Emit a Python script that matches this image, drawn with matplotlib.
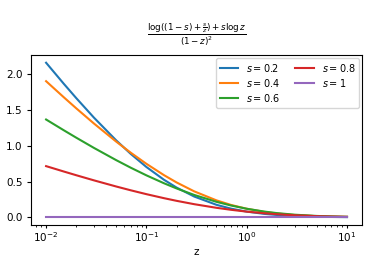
import matplotlib
matplotlib.use('Agg')
import matplotlib.pyplot as plt

# z sample points and curve values for each s
z = [0.01, 0.015, 0.02, 0.03, 0.05, 0.07, 0.1, 0.15, 0.2, 0.3, 0.5, 0.7,
     1.0, 1.5, 2.0, 3.0, 5.0, 7.0, 10.0]
s_02 = [2.157, 1.864, 1.663, 1.391, 1.074, 0.884, 0.7026, 0.5236, 0.4155, 0.2902,
        0.1748, 0.1211, 0.08, 0.0484, 0.0333, 0.0192, 0.0092, 0.0056, 0.0032]
s_04 = [1.8995, 1.6757, 1.5207, 1.309, 1.0565, 0.9009, 0.747, 0.5882, 0.487, 0.3625,
        0.2369, 0.1728, 0.12, 0.0764, 0.0541, 0.0323, 0.0161, 0.01, 0.0059]
s_06 = [1.365, 1.2152, 1.1112, 0.9688, 0.7981, 0.6919, 0.5861, 0.4752, 0.4033, 0.3125,
        0.2165, 0.1649, 0.12, 0.0805, 0.0592, 0.0371, 0.0195, 0.0124, 0.0075]
s_08 = [0.7146, 0.6396, 0.5875, 0.5161, 0.4304, 0.377, 0.3235, 0.2673, 0.2305, 0.1836,
        0.1331, 0.1051, 0.08, 0.0569, 0.0437, 0.0292, 0.0166, 0.0111, 0.007]
s_1 = [0.0] * len(z)

series = [s_02, s_04, s_06, s_08, s_1]
labels = ['$s=0.2$', '$s=0.4$', '$s=0.6$', '$s=0.8$', '$s=1$']

plt.rcParams['font.size'] = 7.5
plt.rcParams['xtick.major.size'] = 2.5
plt.rcParams['ytick.major.size'] = 3
plt.rcParams['xtick.minor.size'] = 1.5
plt.rcParams['xtick.major.pad'] = 1.2
plt.rcParams['ytick.major.pad'] = 3
fig = plt.figure(figsize=(3.74, 2.67), dpi=100)
ax = fig.add_axes([0.083, 0.157, 0.885, 0.637])

for y, lab in zip(series, labels):
    ax.plot(z, y, lw=1.5, label=lab)

ax.set_xscale('log')
ax.set_xlabel('z', labelpad=2)
ax.set_title(r'$\frac{\log((1-s)+\frac{s}{z})+s\log z}{(1-z)^2}$', pad=12)
ax.legend(ncol=2, loc='upper right', fontsize=7, labelspacing=0.3,
          columnspacing=1.6, handlelength=1.9, borderaxespad=0.3)

fig.savefig('out.png', dpi=100)
